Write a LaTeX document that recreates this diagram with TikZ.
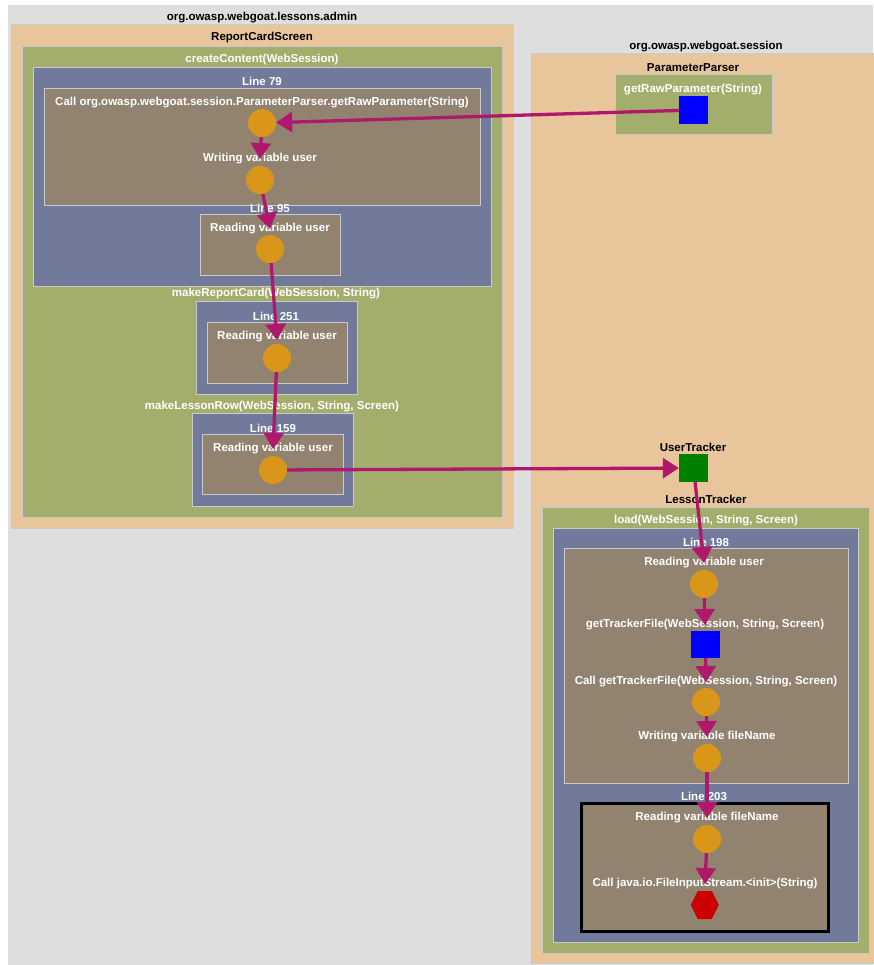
\documentclass[tikz,border=0pt]{standalone}
\usepackage{fontspec}
\setmainfont{Liberation Sans}
\usetikzlibrary{arrows.meta,shapes.geometric}
\definecolor{bgray}{HTML}{DEDEDE}
\definecolor{peach}{HTML}{E8C59B}
\definecolor{olive}{HTML}{A3AE6C}
\definecolor{slate}{HTML}{717A9A}
\definecolor{taupe}{HTML}{928371}
\definecolor{amber}{HTML}{DA9618}
\definecolor{mag}{HTML}{B0186B}
\definecolor{edgegray}{HTML}{CACACA}
\definecolor{hexred}{HTML}{CC0000}
\definecolor{sqgreen}{HTML}{008000}
\begin{document}
\begin{tikzpicture}[x=1pt,y=-1pt,
  box/.style={draw=edgegray, line width=0.8pt},
  lbl/.style={font=\bfseries\fontsize{11.5}{13}\selectfont, inner sep=0pt, text=white},
  dlbl/.style={lbl, text=black},
  dot/.style={circle, fill=amber, minimum size=28pt, inner sep=0pt},
  sq/.style={rectangle, minimum width=29pt, minimum height=28pt, inner sep=0pt},
  arr/.style={draw=mag, line width=3.3pt, -{Triangle[length=16pt,width=20pt]}}]
\useasboundingbox (0,0) rectangle (873,965);
\fill[bgray] (8,5) rectangle (873,965);
% ---------- left package ----------
\node[dlbl] (pkgA) at (262,18) {org.owasp.webgoat.lessons.admin};
\filldraw[fill=peach, box] (11,24) rectangle (513,528);
\node[dlbl] (rcs) at (262,38) {ReportCardScreen};
\filldraw[fill=olive, box] (22,46) rectangle (502,517);
\node[lbl] (mCC) at (262,60) {createContent(WebSession)};
\filldraw[fill=slate, box] (33,67) rectangle (491,286);
\node[lbl] (l79) at (262,81) {Line 79};
\filldraw[fill=taupe, box] (44,88) rectangle (480,205);
\node[lbl] (tCall) at (262,103) {Call org.owasp.webgoat.session.ParameterParser.getRawParameter(String)};
\node[dot] (c1) at (262,123) {};
\node[lbl] (tWrite) at (260,159) {Writing variable user};
\node[dot] (c2) at (260,180) {};
\node[lbl] (l95) at (270,208) {Line 95};
\filldraw[fill=taupe, box] (200,214) rectangle (340,275);
\node[lbl] (tR95) at (270,229) {Reading variable user};
\node[dot] (c3) at (270,249) {};
\node[lbl] (mRC) at (276,294) {makeReportCard(WebSession, String)};
\filldraw[fill=slate, box] (196,301) rectangle (357,394);
\node[lbl] (l251) at (276,316) {Line 251};
\filldraw[fill=taupe, box] (207,322) rectangle (347,383);
\node[lbl] (tR251) at (277,337) {Reading variable user};
\node[dot] (c4) at (277,358) {};
\node[lbl] (mLR) at (272,407) {makeLessonRow(WebSession, String, Screen)};
\filldraw[fill=slate, box] (192,413) rectangle (353,506);
\node[lbl] (l159) at (273,428) {Line 159};
\filldraw[fill=taupe, box] (202,434) rectangle (343,494);
\node[lbl] (tR159) at (273,449) {Reading variable user};
\node[dot] (c5) at (273,470) {};
% ---------- right package ----------
\node[dlbl] (pkgB) at (706,47) {org.owasp.webgoat.session};
\filldraw[fill=peach, box] (531,53) rectangle (875,963);
\node[dlbl] (pp) at (693,68) {ParameterParser};
\filldraw[fill=olive, box] (615,74) rectangle (772,134);
\node[lbl] (mGRP) at (693,90) {getRawParameter(String)};
\node[sq, fill=blue] (sqP) at (693.5,110) {};
\node[dlbl] (ut) at (693,447) {UserTracker};
\node[sq, fill=sqgreen] (sqU) at (693.5,468) {};
\node[dlbl] (lt) at (706,499) {LessonTracker};
\filldraw[fill=olive, box] (542,507) rectangle (869,953);
\node[lbl] (mLoad) at (706,521) {load(WebSession, String, Screen)};
\filldraw[fill=slate, box] (553,528) rectangle (858,942);
\node[lbl] (l198) at (706,542) {Line 198};
\filldraw[fill=taupe, box] (564,548) rectangle (848,783);
\node[lbl] (tR198) at (704,563) {Reading variable user};
\node[dot] (c6) at (704,584) {};
\node[lbl] (tGTF) at (705,625) {getTrackerFile(WebSession, String, Screen)};
\node[sq, fill=blue, minimum height=27pt] (sqG) at (705.5,644.5) {};
\node[lbl] (tCGTF) at (706,682) {Call getTrackerFile(WebSession, String, Screen)};
\node[dot] (c7) at (706,702) {};
\node[lbl] (tWFN) at (707,737) {Writing variable fileName};
\node[dot] (c8) at (707,758) {};
\node[lbl] (l203) at (704,796) {Line 203};
\filldraw[fill=taupe, draw=black, line width=3pt] (581,803) rectangle (828,931);
\node[lbl] (tRFN) at (707,818) {Reading variable fileName};
\node[dot] (c9) at (707,839) {};
\node[lbl] (tCJ) at (705,884) {Call java.io.FileInputStream.<init>(String)};
\node[rectangle, minimum size=28pt, inner sep=0pt] (hx) at (705,905) {};
\fill[hexred] (hx.west) -- ++(7,-14) -- ++(14,0) -- ++(7,14) -- ++(-7,14) -- ++(-14,0) -- cycle;
% ---------- edges ----------
\draw[arr] (sqP) -- (c1);
\draw[arr] (c1) -- (tWrite.center);
\draw[arr] (c2) -- (tR95.center);
\draw[arr] (c3) -- ([yshift=-3pt]tR251.center);
\draw[arr] (c4) -- (tR159.center);
\draw[arr] (c5) -- (sqU);
\draw[arr] (sqU) -- (tR198.center);
\draw[arr] (c6) -- (tGTF.center);
\draw[arr] (sqG) -- (tCGTF.center);
\draw[arr] (c7) -- (tWFN.center);
\draw[arr] (c8) -- (tRFN.center);
\draw[arr] (c9) -- (tCJ.center);
\end{tikzpicture}
\end{document}
